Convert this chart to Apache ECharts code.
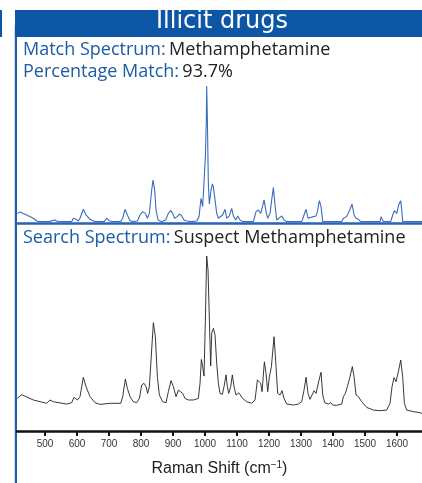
<!DOCTYPE html>
<html>
<head>
<meta charset="UTF-8" />
<title>Illicit drugs</title>
<script type="text/javascript" src="https://cdn.jsdelivr.net/npm/echarts@6/dist/echarts.min.js"></script>
<style>
  html, body { margin: 0; padding: 0; background: #fff; }
  #chart { width: 422px; height: 483px; }
</style>
</head>
<body>
<div id="chart"></div>
<script>
// match (library) spectrum - blue, upper panel
var matchShift = [413.6,421.9,442.7,463.6,474.0,484.4,505.2,515.6,529.2,541.7,
  557.3,583.4,588.6,596.9,604.2,609.4,619.8,628.2,640.7,656.3,
  671.9,684.4,692.7,701.1,713.6,736.5,742.7,750.0,757.3,765.7,
  776.1,788.6,796.9,805.2,813.6,819.8,826.1,833.4,837.5,842.7,
  846.9,853.1,864.6,877.1,885.4,892.7,899.0,905.2,913.6,919.8,
  927.1,934.4,942.7,958.4,974.0,981.3,987.5,992.7,996.9,1001.1,
  1004.2,1005.2,1007.3,1010.4,1013.6,1018.8,1023.0,1026.1,1031.3,1036.5,
  1041.7,1046.9,1055.2,1062.5,1067.7,1076.1,1083.4,1088.6,1095.9,1102.1,
  1109.4,1117.8,1151.1,1159.4,1166.7,1174.0,1178.2,1184.4,1190.7,1195.9,
  1203.2,1208.4,1213.6,1218.8,1224.0,1230.2,1239.6,1246.9,1255.2,1302.1,
  1309.4,1315.7,1321.9,1328.1,1338.6,1346.9,1351.1,1357.3,1362.5,1367.8,
  1427.1,1432.3,1442.7,1453.1,1459.4,1465.7,1471.9,1479.2,1486.5,1546.9,
  1550.0,1553.1,1557.3,1580.2,1586.5,1591.7,1599.0,1605.2,1611.5,1614.6,
  1617.7,1678];
var matchIntensity = [6.1,7.1,4.9,2.5,0.5,0,0,0.2,1.2,0,
  0,0,2.5,1.7,0.5,2.5,9.1,4.9,1.7,0,
  0,0,2.5,0.5,0,0,2.5,9.1,4.9,0.7,
  0,0.5,4.9,7.4,6.1,2.5,6.1,23.3,30.7,23.3,
  8.6,1.2,0,1.2,6.1,8.1,6.1,2.5,3.7,5.6,
  4.2,1.2,0.5,0,0.5,3.7,17.2,11.1,9.8,47.9,
  76.2,100,76.2,28.3,13.0,23.3,27.8,25.8,16.0,6.1,
  2.5,2.0,4.9,9.1,2.5,4.2,9.8,4.2,1.2,4.2,
  1.2,0,0,7.4,8.6,6.1,9.8,16.0,7.4,2.5,
  6.1,16.0,25.1,12.3,1.2,2.5,4.2,1.2,0,0,
  4.9,9.1,2.5,1.2,3.7,4.2,7.4,15.5,11.1,0,
  0,2.5,3.7,9.1,13.0,4.9,2.5,1.7,0,0,
  3.7,4.2,0,0,4.9,8.1,6.1,12.3,15.5,8.6,
  0,0];

// search (suspect) spectrum - black, lower panel
var searchShift = [413.6,427.1,463.6,505.2,515.6,526.1,567.7,583.4,590.7,601.1,
  609.4,619.8,628.2,640.7,656.3,671.9,703.2,736.5,742.7,751.1,
  757.3,765.7,776.1,786.5,794.8,802.1,809.4,815.6,820.9,826.1,
  838.6,844.8,851.1,857.3,867.7,878.2,885.4,893.8,901.1,909.4,
  916.7,921.9,930.2,937.5,948.0,963.6,979.2,984.4,988.6,992.7,
  996.9,1001.1,1005.2,1009.4,1013.6,1017.7,1020.9,1026.1,1031.3,1036.5,
  1041.7,1046.9,1054.2,1059.4,1065.7,1069.8,1074.0,1080.2,1085.4,1090.7,
  1096.9,1105.3,1109.4,1117.8,1130.2,1145.9,1156.3,1163.6,1169.8,1174.0,
  1178.2,1185.5,1190.7,1195.9,1201.1,1207.4,1215.7,1221.9,1227.1,1234.4,
  1240.7,1246.9,1255.2,1276.1,1291.7,1302.1,1309.4,1315.7,1321.9,1328.1,
  1334.4,1340.7,1346.9,1351.1,1356.3,1362.5,1367.8,1374.0,1385.5,1392.7,
  1399.0,1411.5,1427.1,1432.3,1438.6,1444.8,1453.1,1460.4,1465.7,1471.9,
  1479.2,1489.6,1505.2,1526.1,1546.9,1567.7,1578.1,1584.4,1590.6,1596.9,
  1605.2,1611.5,1617.7,1622.9,1630.2,1651.0,1671.9,1678.1];
var searchIntensity = [9.5,11.9,8.5,6.4,8.5,7.4,5.9,6.8,10.2,8.5,
  10.6,22.9,17.0,10.6,6.8,5.7,6.4,6.4,10.6,21.8,
  15.9,10.6,7.4,6.8,9.5,18.0,19.1,17.0,12.7,17.0,
  57.6,48.7,23.3,11.7,7.4,6.8,13.8,20.8,17.0,10.6,
  14.8,15.9,12.7,9.5,8.5,8.5,9.5,19.1,34.3,29.7,
  23.7,59.3,100,91.1,59.3,30.1,50.9,54.0,49.8,31.8,
  19.1,12.7,12.1,17.0,24.4,17.0,12.7,17.0,24.4,17.0,
  11.6,13.1,12.7,9.5,7.4,6.4,8.5,21.2,22.2,19.1,
  13.8,32.8,25.4,13.8,23.3,29.7,48.7,29.7,12.7,11.7,
  14.4,9.5,5.9,5.3,5.9,7.4,14.8,22.9,12.7,8.9,
  11.7,14.4,12.7,11.7,21.2,26.1,11.7,6.8,5.9,6.8,
  5.3,5.1,5.9,10.6,12.7,17.0,23.3,29.7,23.3,11.7,
  10.6,7.4,3.8,2.1,1.7,2.1,6.4,17.0,22.7,20.1,
  27.5,33.9,23.3,6.4,2.1,1.1,0.4,0.0];

var shiftTicks = [500,600,700,800,900,1000,1100,1200,1300,1400,1500,1600];
var shiftMin = 412.5, shiftMax = 1678;

function pairs(xs, ys) {
  var out = [];
  for (var i = 0; i < xs.length; i++) out.push([xs[i], ys[i]]);
  return out;
}

var blue = '#0d56a6';
var txtFont = '"Open Sans", "Noto Sans", sans-serif';
var labelRich = {
  a: { fill: '#1b5ca8', fontSize: 18, fontFamily: txtFont },
  b: { fill: '#222', fontSize: 18, fontFamily: txtFont }
};

var myChart = echarts.init(document.getElementById('chart'));
myChart.setOption({
  animation: false,
  grid: [
    { left: 17, width: 405, top: 86, height: 137 },
    { left: 17, width: 405, top: 250, height: 181 }
  ],
  xAxis: [{
    gridIndex: 0, type: 'value', min: shiftMin, max: shiftMax,
    axisLine: { onZero: false, lineStyle: { color: '#2a62b4', width: 2.5 } },
    axisTick: { show: false }, axisLabel: { show: false }, splitLine: { show: false }
  }, {
    gridIndex: 1, type: 'value', min: shiftMin, max: shiftMax,
    name: '{n|Raman Shift (cm}{s|−1}{n|)}',
    nameLocation: 'middle', nameGap: 29,
    nameTextStyle: {
      rich: {
        n: { fontFamily: '"Liberation Sans", Arial, sans-serif', fontSize: 16, color: '#222' },
        s: { fontFamily: '"Liberation Sans", Arial, sans-serif', fontSize: 10, color: '#222', verticalAlign: 'top', padding: [0, 0, 8, 0] }
      }
    },
    axisLine: { onZero: false, lineStyle: { color: '#111', width: 2.5 } },
    axisTick: { customValues: shiftTicks, length: 5, lineStyle: { color: '#111', width: 2 } },
    axisLabel: { customValues: shiftTicks, margin: 8, fontSize: 10, color: '#333',
      fontFamily: '"Liberation Sans", Arial, sans-serif',
      formatter: function (v) { return String(v); } },
    splitLine: { show: false }
  }],
  yAxis: [
    { gridIndex: 0, type: 'value', min: -1, max: 100, show: false },
    { gridIndex: 1, type: 'value', min: -11.2, max: 103.8, show: false }
  ],
  series: [{
    name: 'Match Spectrum', type: 'line', xAxisIndex: 0, yAxisIndex: 0,
    showSymbol: false, data: pairs(matchShift, matchIntensity),
    lineStyle: { color: '#3a6cc0', width: 1.1 }
  }, {
    name: 'Search Spectrum', type: 'line', xAxisIndex: 1, yAxisIndex: 1,
    showSymbol: false, data: pairs(searchShift, searchIntensity),
    lineStyle: { color: '#222', width: 0.9 }
  }],
  graphic: [
    // header bar and left frame
    { type: 'rect', shape: { x: 15, y: 10, width: 407, height: 27 }, style: { fill: blue } },
    { type: 'rect', shape: { x: 0, y: 10, width: 2, height: 27 }, style: { fill: blue } },
    { type: 'rect', shape: { x: 14, y: 25, width: 1, height: 458 }, style: { fill: '#d6dbe3' } },
    { type: 'rect', shape: { x: 15, y: 37, width: 2, height: 446 }, style: { fill: '#1d5fb2' } },
    { type: 'text', x: 222, y: 22, style: {
        text: 'Illicit drugs', fill: '#fff', align: 'center', verticalAlign: 'middle',
        font: 'normal 24px "DejaVu Sans", sans-serif' } },
    { type: 'text', x: 23, y: 50, style: {
        text: '{a|Match Spectrum:} {b|Methamphetamine}', verticalAlign: 'middle', rich: labelRich } },
    { type: 'text', x: 23, y: 72, style: {
        text: '{a|Percentage Match:} {b|93.7%}', verticalAlign: 'middle', rich: labelRich } },
    { type: 'text', x: 23, y: 238, style: {
        text: '{a|Search Spectrum:} {b|Suspect Methamphetamine}', verticalAlign: 'middle', rich: labelRich } }
  ]
});
</script>
</body>
</html>
